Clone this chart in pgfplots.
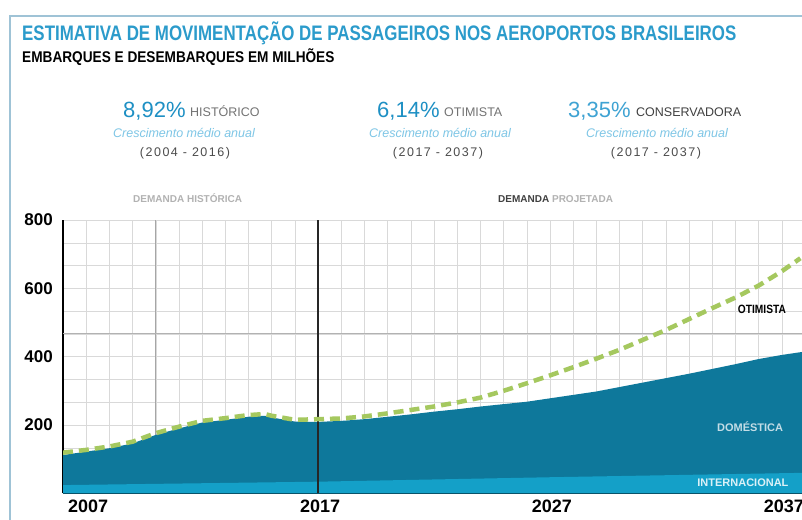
\documentclass[border=0pt]{standalone}
\usepackage{pgfplots}
\pgfplotsset{compat=1.18}
\usepackage{pgfplotstable}
\usepackage{fontspec}
\setmainfont{Liberation Sans}
\newfontfamily\titlefont[FakeStretch=0.805]{Liberation Sans}
\newfontfamily\subfont[FakeStretch=0.88]{Liberation Sans}
\newfontfamily\narrow[FakeStretch=0.85]{Liberation Sans}
\newfontfamily\spaced[LetterSpace=12]{Liberation Sans}

\definecolor{titleblue}{HTML}{2B9BCB}
\definecolor{pctblue}{HTML}{1E90C4}
\definecolor{pctlight}{HTML}{3FA3D3}
\definecolor{crescblue}{HTML}{7EC6E6}
\definecolor{domblue}{HTML}{0E789B}
\definecolor{intlblue}{HTML}{14A0C8}
\definecolor{optgreen}{HTML}{A5C85F}
\definecolor{framecol}{HTML}{9FC3D6}

% total (domestica + internacional), milhoes
\pgfplotstableread{
year total
2006 112
2007 122
2008 132
2009 146
2010 171
2011 190
2012 207
2013 215
2014 224
2014.7 227
2015 222
2016 210
2017 209
2018 212
2019 217
2020 224
2021 231
2022 239
2023 246
2024 254
2025 261
2026 268
2027 278
2028 288
2029 298
2030 311
2031 324
2032 337
2033 350
2034 364
2035 378
2036 393
2037 405
2038 415
}\totaltab

\pgfplotstableread{
year intl
2006 24
2017 34
2027 47
2038 60
}\intltab

% cenario otimista
\pgfplotstableread{
year opt
2006 119
2007 127
2008 137
2009 151
2010 176
2011 195
2012 212
2013 220
2014 229
2014.7 232
2015 227
2016 215
2017 217
2018 219
2019 225
2020 234
2021 244
2022 254
2023 266
2024 280
2025 300
2026 322
2027 345
2028 369
2029 394
2030 420
2031 449
2032 478
2033 510
2034 542
2035 573
2036 608
2037 650
2037.8 688
}\opttab

\begin{document}
\begin{tikzpicture}[x=1pt,y=1pt]
\useasboundingbox (0,0) rectangle (802,519);
\clip (0,0) rectangle (802,519);
\fill[white] (0,0) rectangle (802,519);
\draw[framecol, line width=2pt] (10,-5) -- (10,503) -- (810,503);

% titulos
\node[anchor=base west, inner sep=0pt, text=titleblue] at (22,478)
  {\fontsize{21}{21}\titlefont\bfseries ESTIMATIVA DE MOVIMENTAÇÃO DE PASSAGEIROS NOS AEROPORTOS BRASILEIROS};
\node[anchor=base west, inner sep=0pt] at (22,456)
  {\fontsize{15.5}{15.5}\subfont\bfseries EMBARQUES E DESEMBARQUES EM MILHÕES};

% blocos de crescimento
\node[anchor=base west, inner sep=0pt, text=pctblue] at (123,401) {\fontsize{22}{22}\selectfont 8,92\%};
\node[anchor=base west, inner sep=0pt, text=black!55] at (190,402) {\fontsize{12.5}{12.5}\selectfont HISTÓRICO};
\node[anchor=base, inner sep=0pt, text=crescblue] at (184,381) {\fontsize{12.5}{12.5}\selectfont\itshape Crescimento médio anual};
\node[anchor=base, inner sep=0pt, text=black!70] at (185,362) {\fontsize{12.5}{12.5}\spaced (2004 - 2016)};

\node[anchor=base west, inner sep=0pt, text=pctblue] at (377,401) {\fontsize{22}{22}\selectfont 6,14\%};
\node[anchor=base west, inner sep=0pt, text=black!55] at (444,402) {\fontsize{12.5}{12.5}\selectfont OTIMISTA};
\node[anchor=base, inner sep=0pt, text=crescblue] at (440,381) {\fontsize{12.5}{12.5}\selectfont\itshape Crescimento médio anual};
\node[anchor=base, inner sep=0pt, text=black!70] at (438,362) {\fontsize{12.5}{12.5}\spaced (2017 - 2037)};

\node[anchor=base west, inner sep=0pt, text=pctlight] at (568,401) {\fontsize{22}{22}\selectfont 3,35\%};
\node[anchor=base west, inner sep=0pt, text=black!75] at (636,402) {\fontsize{12.5}{12.5}\selectfont CONSERVADORA};
\node[anchor=base, inner sep=0pt, text=crescblue] at (657,381) {\fontsize{12.5}{12.5}\selectfont\itshape Crescimento médio anual};
\node[anchor=base, inner sep=0pt, text=black!70] at (656,362) {\fontsize{12.5}{12.5}\spaced (2017 - 2037)};

\node[anchor=base west, inner sep=0pt, text=black!30] at (133,316) {\fontsize{10}{10}\selectfont\bfseries DEMANDA HISTÓRICA};
\node[anchor=base west, inner sep=0pt] at (498,316) {\fontsize{10}{10}\selectfont\bfseries \textcolor{black!75}{DEMANDA} \textcolor{black!30}{PROJETADA}};

\begin{axis}[
  at={(63pt,25.7pt)}, anchor=south west, scale only axis,
  width=742pt, height=273.3pt,
  xmin=2006, xmax=2038, ymin=0, ymax=800,
  axis x line=bottom, axis y line=left,
  axis line style={-, black, line width=1.6pt},
  xtick={2007,2017,2027,2037}, xticklabels={2007,2017,2027,2037},
  ytick={200,400,600,800}, yticklabels={200,400,600,800},
  minor xtick={2006,...,2038},
  minor ytick={66.667,133.333,...,800},
  major tick length=0pt, minor tick length=0pt,
  grid=both,
  major grid style={gray!30, line width=0.4pt},
  minor grid style={gray!30, line width=0.4pt},
  xticklabel style={font=\fontsize{18}{18}\selectfont\bfseries, inner sep=0pt, yshift=-6pt, xshift=2pt},
  yticklabel style={font=\fontsize{17}{17}\selectfont\bfseries, inner sep=0pt, xshift=-10pt},
  clip=true,
]
% linhas de destaque
\draw[gray!70, line width=1pt] (axis cs:2010,0) -- (axis cs:2010,800);
\draw[gray!60, line width=0.9pt] (axis cs:2006,466.667) -- (axis cs:2038,466.667);

\addplot[fill=domblue, draw=none] table[x=year, y=total] {\totaltab} \closedcycle;
\addplot[fill=intlblue, draw=none] table[x=year, y=intl] {\intltab} \closedcycle;

\draw[black!85, line width=1.6pt] (axis cs:2017,0) -- (axis cs:2017,800);

\addplot[optgreen, line width=4.5pt, dash pattern=on 10pt off 6pt] table[x=year, y=opt] {\opttab};

\node[anchor=base west, inner sep=0pt] at (axis cs:2035.1,526) {\fontsize{12}{12}\narrow\bfseries OTIMISTA};
\node[anchor=base west, inner sep=0pt, text=white!75!domblue] at (axis cs:2034.2,182) {\fontsize{11}{11}\selectfont\bfseries DOMÉSTICA};
\node[anchor=base west, inner sep=0pt, text=white!85!intlblue] at (axis cs:2033.35,20) {\fontsize{11}{11}\selectfont\bfseries INTERNACIONAL};
\end{axis}
\end{tikzpicture}
\end{document}
